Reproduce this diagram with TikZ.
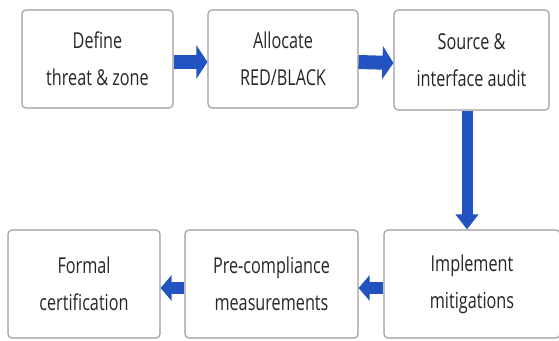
\documentclass[tikz,border=0pt]{standalone}
\usepackage{fontspec}
\setmainfont{Open Sans}[FakeStretch=0.74]
\usetikzlibrary{arrows.meta,calc}
\definecolor{flowblue}{HTML}{2353C0}
\definecolor{boxgray}{HTML}{9C9C9C}
\tikzset{
  stage/.style={draw=boxgray,line width=1.1bp,rounded corners=4bp,fill=white,
    align=center,inner sep=0pt,minimum height=98bp,
    font=\fontsize{22}{37}\selectfont,text=black!85},
  flow/.style={flowblue,line width=#1},
}
\newcommand{\tip}[2]{-{Triangle[length=#1,width=#2]}}

\begin{document}
\begin{tikzpicture}[x=1bp,y=-1bp]
  \clip (0,0) rectangle (559,340);
  \fill[white] (0,0) rectangle (559,340);

  \node[stage,minimum width=151bp] (define)   at (97.5,59)  {Define\\threat \& zone};
  \node[stage,minimum width=150bp] (allocate) at (283,59)   {Allocate\\RED/BLACK};
  \node[stage,minimum width=155bp,minimum height=100bp] (source) at (471.5,60) {Source \&\\interface audit};

  \node[stage,minimum width=152bp,minimum height=108bp] (formal)  at (84,284)    {Formal\\certification};
  \node[stage,minimum width=173bp,minimum height=108bp] (precomp) at (271.5,284) {Pre-compliance\\measurements};
  \node[stage,minimum width=176bp,minimum height=108bp] (implement) at (472,284) {Implement\\mitigations};

  \draw[flow=14bp,\tip{11bp}{33bp}] ([yshift=-3bp]define.east) -- ([yshift=-3bp]allocate.west);
  \draw[flow=14bp,\tip{11bp}{33bp}] ([yshift=-3bp]allocate.east) -- ([yshift=-3bp]source.west);
  \draw[flow=11bp,\tip{15bp}{22bp}] ([xshift=-4.5bp]source.south) -- ([xshift=-4.5bp]source.south |- implement.north);
  \draw[flow=12bp,\tip{11bp}{25bp}] ([yshift=-4bp]implement.west) -- ([yshift=-4bp]precomp.east);
  \draw[flow=12bp,\tip{11bp}{25bp}] ([yshift=-4bp]precomp.west) -- ([yshift=-4bp]formal.east);
\end{tikzpicture}
\end{document}
